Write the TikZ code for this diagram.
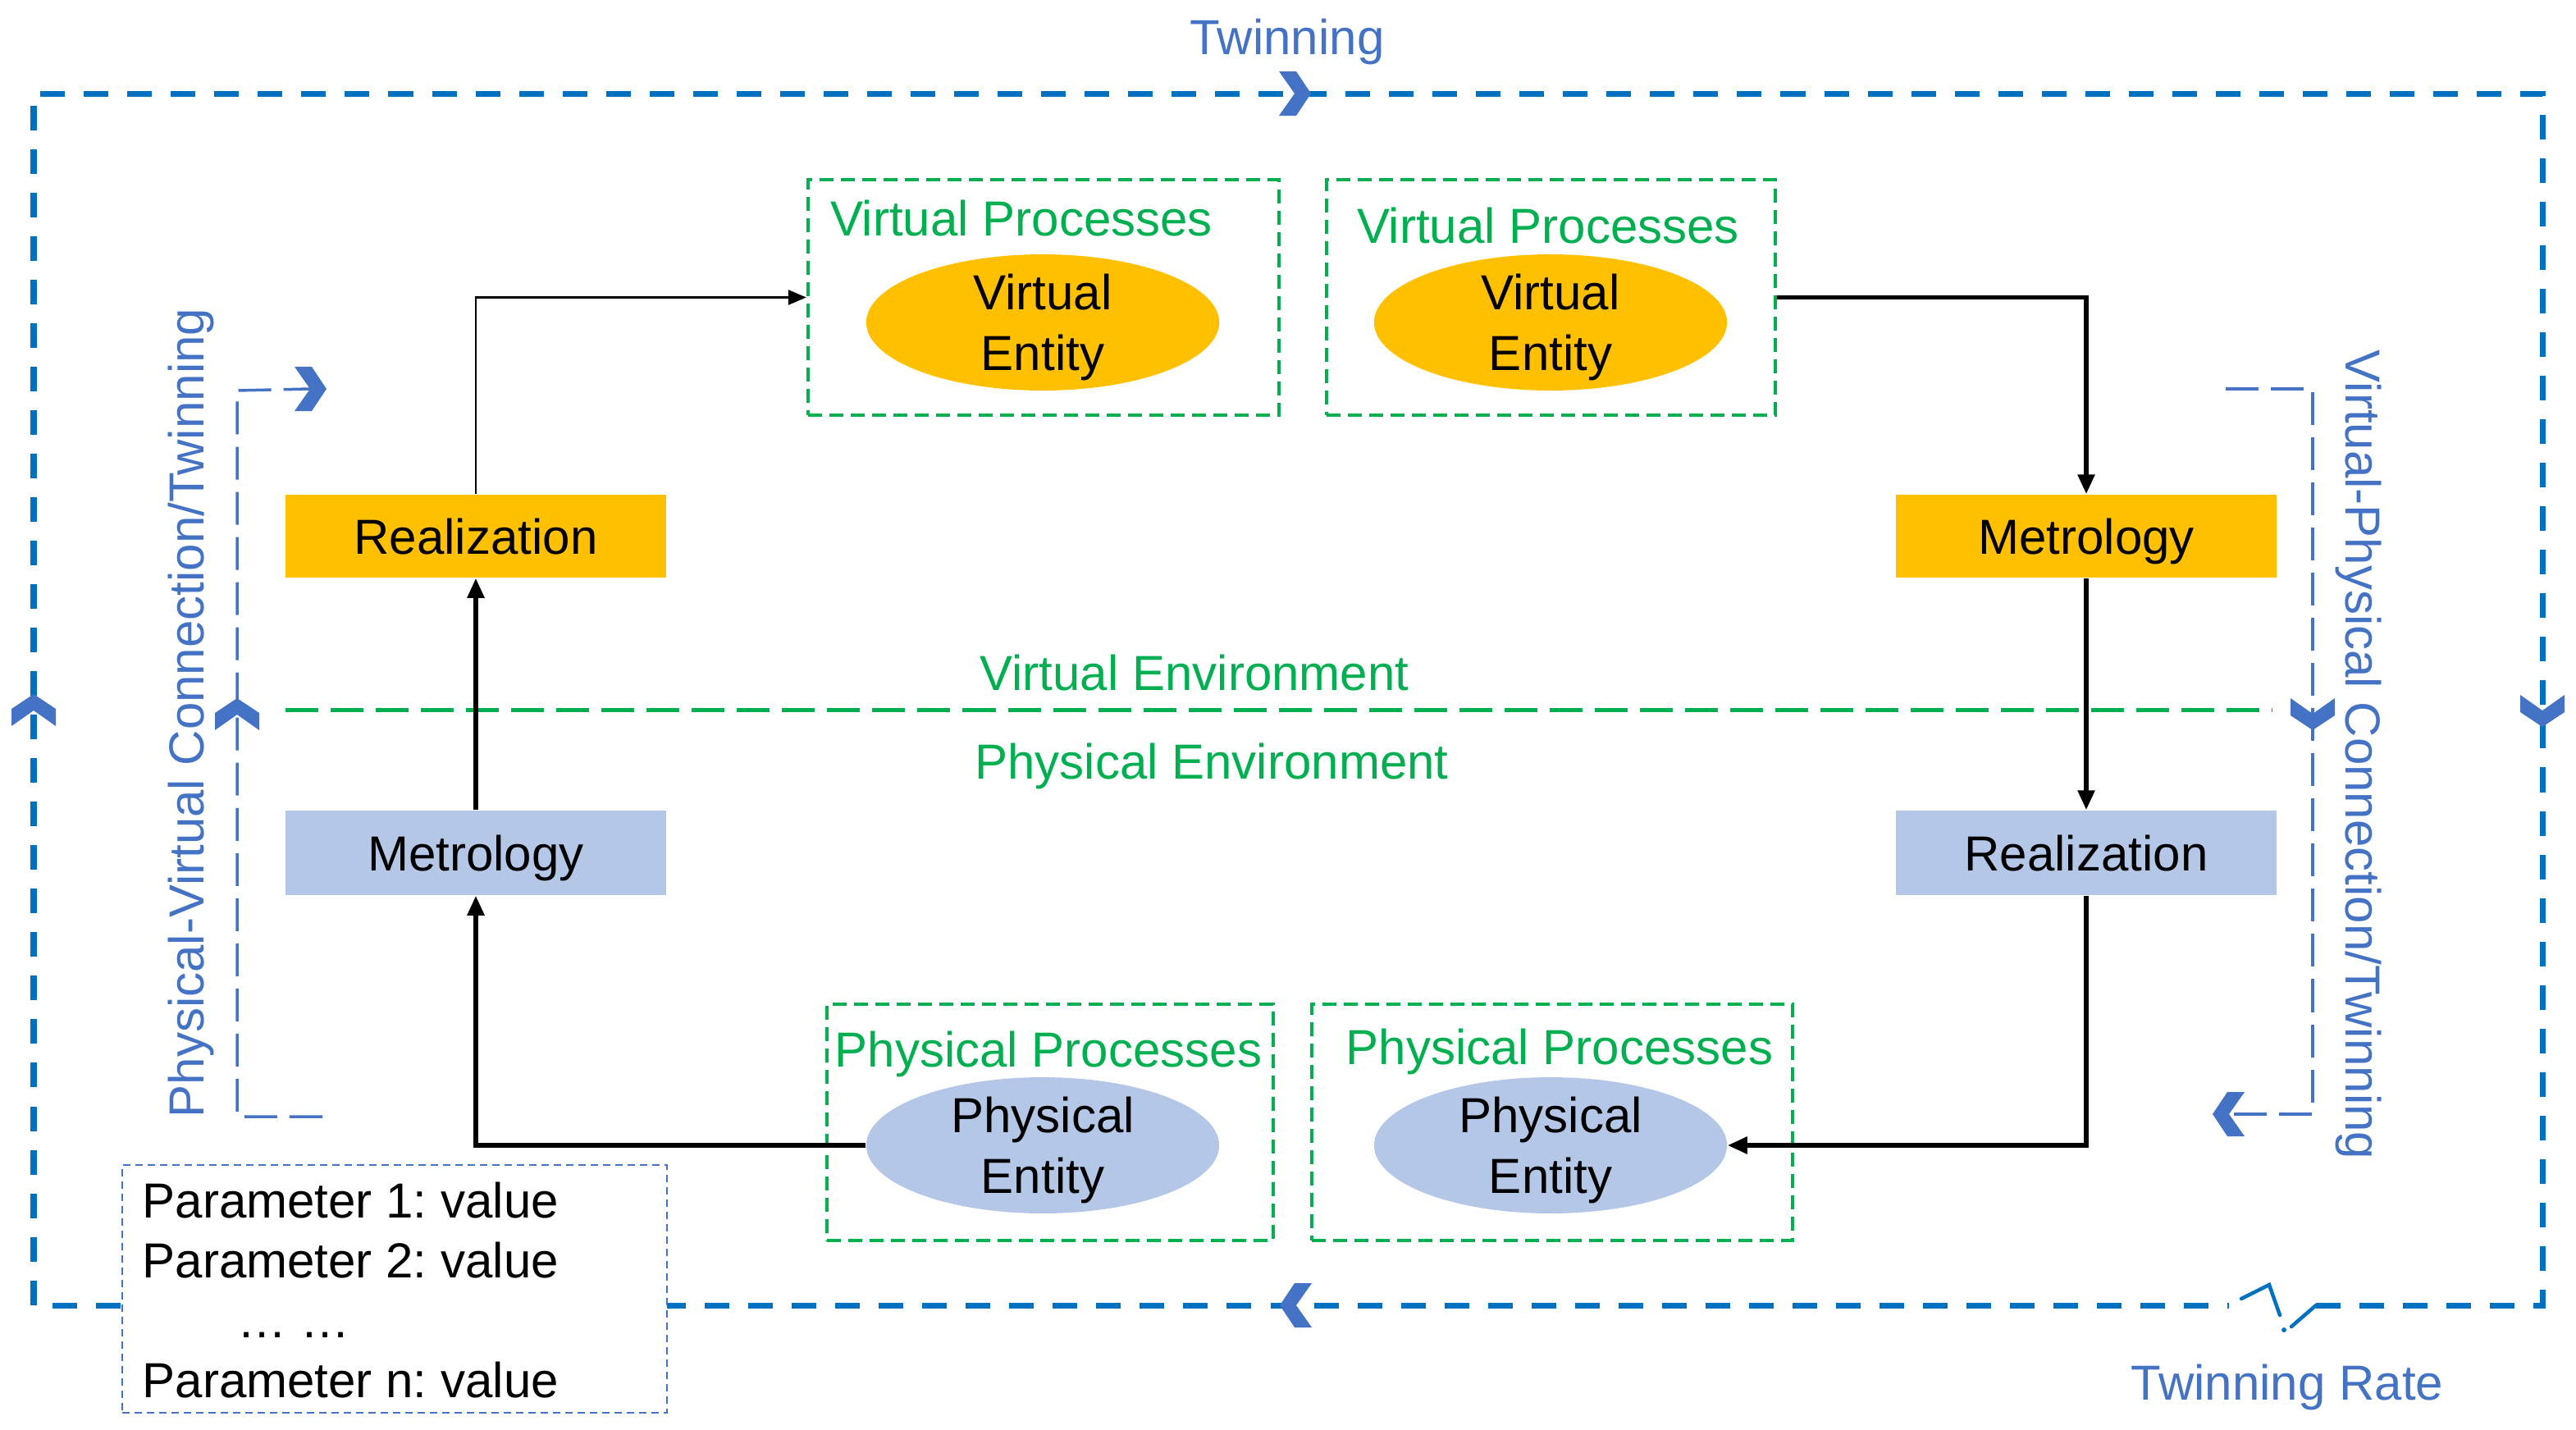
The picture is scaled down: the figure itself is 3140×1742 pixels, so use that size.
\documentclass[tikz,border=0pt]{standalone}
\usepackage{fontspec}
\setmainfont{Liberation Sans}
\usetikzlibrary{arrows.meta,shapes.geometric}
\definecolor{gold}{HTML}{FFC000}
\definecolor{lblue}{HTML}{B4C7E7}
\definecolor{grn}{HTML}{00B050}
\definecolor{tblue}{HTML}{4472C4}
\definecolor{oblue}{HTML}{0070C0}
\frenchspacing
\begin{document}
\begin{tikzpicture}[x=0.01cm,y=-0.01cm,
 every node/.style={font=\fontsize{17.07pt}{21pt}\selectfont},
 box/.style={rectangle, minimum width=4.64cm, minimum height=1.01cm, inner sep=0pt, text height=0.43cm, text depth=0pt},
 procbox/.style={draw=grn, line width=0.04cm, dash pattern=on 0.17cm off 0.09cm, inner sep=0pt},
 ent/.style={ellipse, minimum width=4.3cm, minimum height=1.62cm, inner sep=0pt, align=center, text depth=0pt},
 glab/.style={text=grn, anchor=base, inner sep=0pt},
 blab/.style={text=tblue, anchor=base, inner sep=0pt},
 plab/.style={anchor=base west, inner sep=0pt},
 outer/.style={draw=oblue, line width=0.07cm, dash pattern=on 0.3cm off 0.23cm},
 brk/.style={draw=tblue, line width=0.035cm, dash pattern=on 0.4cm off 0.15cm},
 envline/.style={draw=grn, line width=0.05cm, dash pattern=on 0.4cm off 0.15cm},
 flow/.style={draw=black, line width=0.055cm, -{Triangle[length=0.24cm,width=0.2cm]}},
 thinflow/.style={draw=black, line width=0.028cm, -{Triangle[length=0.22cm,width=0.18cm]}},
 chev/.pic={\fill[tblue] (-19,-27) -- (2,-27) -- (20,0) -- (2,27) -- (-19,27) -- (0,0) -- cycle;}
]
\useasboundingbox (0,0) rectangle (3140,1742);

% outer twinning loop
\coordinate (oTL) at (41,114);
\coordinate (oTR) at (3099,114);
\coordinate (oBR) at (3099,1591);
\coordinate (oBL) at (41,1591);
\coordinate (brkL) at (2717,1591);
\coordinate (brkR) at (2823,1591);
\draw[outer] (brkR) -- (oBR) -- (oTR) -- (oTL) -- (oBL) -- (brkL);
\draw[oblue, line width=0.045cm, line cap=round] (2732,1583) -- (2766,1566) -- (2779,1603);
\draw[oblue, line width=0.045cm, line cap=round] (2793,1617) -- (brkR);
\fill[oblue] (2784,1621) circle (3);
\pic[rotate=0] at (1578,114) {chev};
\pic[rotate=180] at (1580,1591) {chev};
\pic[rotate=90] at (41,866) {chev};
\pic[rotate=-90] at (3099,866) {chev};

% environment separator
\coordinate (envL) at (348,865);
\coordinate (envR) at (2770,865);
\draw[envline] (envL) -- (envR);

% brackets
\coordinate (lbT) at (378,474);
\coordinate (lbB) at (393,1361);
\draw[brk] (lbB) -- (289,1361) -- (289,476) -- (lbT);
\pic[rotate=90] at (289,871) {chev};
\pic[rotate=0] at (lbT) {chev};
\coordinate (rbT) at (2713,474);
\coordinate (rbB) at (2717,1358);
\draw[brk] (rbT) -- (2819,474) -- (2819,1358) -- (rbB);
\pic[rotate=-90] at (2819,870) {chev};
\pic[rotate=180] at (rbB) {chev};

% labels
\node[blab] (tw) at (1569,66) {Twinning};
\node[blab] (twr) at (2788,1706) {Twinning Rate};
\node[blab, rotate=90] (pvc) at (248,869) {Physical-Virtual Connection/Twinning};
\node[blab, rotate=-90] (vpc) at (2859,920) {Virtual-Physical Connection/Twinning};
\node[glab] (venv) at (1456,841) {Virtual Environment};
\node[glab] (penv) at (1477,949) {Physical Environment};

% process boxes
\node[procbox, minimum width=5.74cm, minimum height=2.87cm] (vp1) at (1272,362.5) {};
\node[procbox, minimum width=5.47cm, minimum height=2.87cm] (vp2) at (1890.5,362.5) {};
\node[procbox, minimum width=5.44cm, minimum height=2.88cm] (pp1) at (1280,1368) {};
\node[procbox, minimum width=5.86cm, minimum height=2.88cm] (pp2) at (1892,1368) {};
\node[glab] (vp1l) at (1245,287) {Virtual Processes};
\node[glab] (vp2l) at (1887,296) {Virtual Processes};
\node[glab] (pp1l) at (1278,1300) {Physical Processes};
\node[glab] (pp2l) at (1901,1297) {Physical Processes};

% entities
\node[ent, fill=gold] (ve1) at (1271,393) {Virtual\\Entity};
\node[ent, fill=gold] (ve2) at (1890,393) {Virtual\\Entity};
\node[ent, fill=lblue] (pe1) at (1271,1396) {Physical\\Entity};
\node[ent, fill=lblue] (pe2) at (1890,1396) {Physical\\Entity};

% steps
\node[box, fill=gold] (realT) at (580,653.5) {Realization};
\node[box, fill=gold] (metT) at (2543,653.5) {Metrology};
\node[box, fill=lblue, minimum height=1.03cm] (metB) at (580,1039.5) {Metrology};
\node[box, fill=lblue, minimum height=1.03cm] (realB) at (2543,1039.5) {Realization};

% flows
\draw[thinflow] (realT.north) |- (vp1.west);
\draw[flow] (metB.north) -- (realT.south);
\draw[flow] (pe1.west) -| (metB.south);
\draw[flow] (vp2.east) -| (metT.north);
\draw[flow] (metT.south) -- (realB.north);
\draw[flow] (realB.south) |- (pe2.east);

% parameter box
\node[draw=tblue, fill=white, line width=0.02cm, dash pattern=on 0.09cm off 0.06cm, minimum width=6.64cm, minimum height=3.02cm, inner sep=0pt] (par) at (481,1571) {};
\node[plab] (p1) at (173,1484) {Parameter 1: value};
\node[plab] (p2) at (173,1557) {Parameter 2: value};
\node[plab] (p3) at (289,1630) {… …};
\node[plab] (p4) at (173,1703) {Parameter n: value};
\end{tikzpicture}
\end{document}
